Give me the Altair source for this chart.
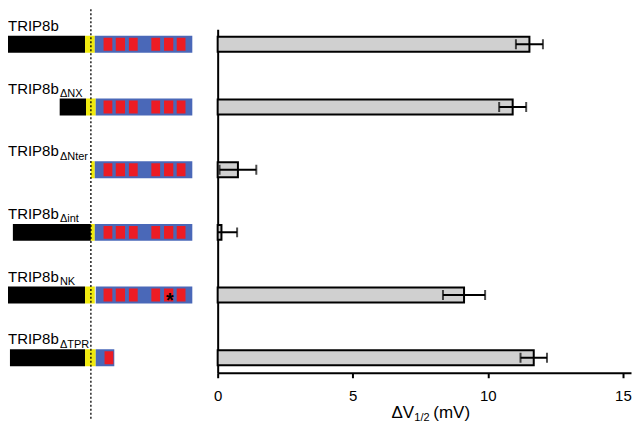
import altair as alt
import pandas as pd

# ---------------- data ----------------
constructs = ["TRIP8b", "TRIP8bΔNX", "TRIP8bΔNter", "TRIP8bΔint", "TRIP8bNK", "TRIP8bΔTPR"]
label_main = ["TRIP8b", "TRIP8b", "TRIP8b", "TRIP8b", "TRIP8b", "TRIP8b"]
label_sub = ["", "ΔNX", "ΔNter", "Δint", "NK", "ΔTPR"]

dv_mean = [11.54, 10.92, 0.75, 0.14, 9.12, 11.70]
dv_err = [0.50, 0.50, 0.68, 0.58, 0.78, 0.49]

# schematic (positions along the schematic axis)
black_start = [0, 56, None, 8, 3, 5]
black_end = [82, 83, None, 88, 82, 82]
yellow_start = [82, 83, 88, 88, 82, 82]
yellow_end = [92, 93, 92, 92, 92, 93]
blue_start = [92, 93, 92, 92, 93, 93]
blue_end = [192, 192, 192, 192, 192, 112]
tpr_start = [101, 113.5, 127, 150, 163, 176]
tpr_end = [110, 123, 136, 159, 172.5, 185]
tpr_short_start = [102]
tpr_short_end = [111]
mutation_construct = ["TRIP8bNK"]
mutation_pos = [169]
junction_pos = [88]
label_pos = [3, 3, 3, 3, 3, 3]

x_ticks = [0, 5, 10, 15]

# ---------------- tables ----------------
seg_rows = []
for i, c in enumerate(constructs):
    if black_start[i] is not None:
        seg_rows.append({"construct": c, "start": black_start[i], "end": black_end[i], "kind": "N"})
    seg_rows.append({"construct": c, "start": yellow_start[i], "end": yellow_end[i], "kind": "link"})
    seg_rows.append({"construct": c, "start": blue_start[i], "end": blue_end[i], "kind": "core"})
segs = pd.DataFrame(seg_rows)

red_rows = []
for i, c in enumerate(constructs):
    if label_sub[i] == "ΔTPR":
        for s, e in zip(tpr_short_start, tpr_short_end):
            red_rows.append({"construct": c, "start": s, "end": e})
    else:
        for s, e in zip(tpr_start, tpr_end):
            red_rows.append({"construct": c, "start": s, "end": e})
reds = pd.DataFrame(red_rows)

labels = pd.DataFrame({"construct": constructs, "main": label_main, "sub": label_sub, "lx": label_pos})
star = pd.DataFrame({"construct": mutation_construct, "x": mutation_pos, "t": ["*"]})
junction = pd.DataFrame({"x": junction_pos})

bars = pd.DataFrame({"construct": constructs, "dv": dv_mean, "err": dv_err})
bars["lo"] = bars["dv"] - bars["err"]
bars["hi"] = bars["dv"] + bars["err"]

# ---------------- shared encodings ----------------
H = 344
yenc = alt.Y("construct:N", sort=constructs,
             scale=alt.Scale(type="point", padding=0.239), axis=None)
xs_left = alt.X("start:Q", scale=alt.Scale(domain=[3, 218], nice=False, zero=False), axis=None)

seg_layer = alt.Chart(segs).mark_bar(size=17, clip=True).encode(
    x=xs_left, x2="end:Q", y=yenc,
    color=alt.Color("kind:N", scale=alt.Scale(domain=["N", "link", "core"],
                                              range=["#000000", "#f0ea10", "#4a68b8"]), legend=None),
)
red_layer = alt.Chart(reds).mark_bar(size=13, color="#ec1c24", clip=True).encode(
    x=xs_left, x2="end:Q", y=yenc
)
star_layer = alt.Chart(star).mark_text(fontSize=20, fontWeight="bold", color="black",
                                       align="center", baseline="middle", dy=6).encode(
    x=alt.X("x:Q"), y=yenc, text="t:N"
)
main_lbl = alt.Chart(labels).mark_text(align="left", baseline="alphabetic", fontSize=15,
                                       dy=-13.5, color="black").encode(
    x=alt.X("lx:Q"), y=yenc, text="main:N"
)
sub_lbl = alt.Chart(labels).mark_text(align="left", baseline="alphabetic", fontSize=11,
                                      dx=52, dy=-10, color="black").encode(
    x=alt.X("lx:Q"), y=yenc, text="sub:N"
)
rule_layer = alt.Chart(junction).mark_rule(color="black", strokeDash=[2, 2], strokeWidth=1.3).encode(
    x=alt.X("x:Q"), y=alt.value(-20), y2=alt.value(390)
)

left = alt.layer(seg_layer, red_layer, star_layer, main_lbl, sub_lbl, rule_layer).properties(
    width=210, height=H, view=alt.ViewBackground(stroke="transparent", strokeWidth=0)
)

xs_right = alt.X("dv:Q", scale=alt.Scale(domain=[0, 15.3], nice=False),
                 axis=alt.Axis(values=x_ticks, title=None, grid=False, labelFontSize=15,
                               labelColor="black", tickColor="black", tickSize=5, tickWidth=2,
                               domainColor="black", domainWidth=2, labelPadding=11,
                               labelFlush=False, labelFont="Liberation Sans"))
yr = alt.Y("construct:N", sort=constructs,
           scale=alt.Scale(type="point", padding=0.239),
           axis=alt.Axis(title=None, labels=False, ticks=False, grid=False,
                         domainColor="black", domainWidth=2, minExtent=0))

bar_layer = alt.Chart(bars).mark_bar(size=15, fill="#d0d0d0", stroke="black", strokeWidth=2).encode(
    x=xs_right, y=yr
)
err_layer = alt.Chart(bars).mark_rule(color="black", strokeWidth=2, clip=True).encode(
    x="lo:Q", x2="hi:Q", y=yr
)
cap_lo = alt.Chart(bars).mark_tick(color="black", thickness=2, size=10, clip=True).encode(
    x="lo:Q", y=yr
)
cap_hi = alt.Chart(bars).mark_tick(color="black", thickness=2, size=10, clip=True).encode(
    x="hi:Q", y=yr
)
t1 = alt.Chart(pd.DataFrame({"t": ["ΔV"]})).mark_text(align="left", baseline="alphabetic",
                                                      fontSize=17, color="black").encode(
    x=alt.value(174), y=alt.value(H + 45), text="t:N")
t2 = alt.Chart(pd.DataFrame({"t": ["1/2"]})).mark_text(align="left", baseline="alphabetic",
                                                       fontSize=11, color="black").encode(
    x=alt.value(197), y=alt.value(H + 48), text="t:N")
t3 = alt.Chart(pd.DataFrame({"t": ["(mV)"]})).mark_text(align="left", baseline="alphabetic",
                                                        fontSize=17, color="black").encode(
    x=alt.value(216), y=alt.value(H + 45), text="t:N")

right = alt.layer(bar_layer, err_layer, cap_lo, cap_hi, t1, t2, t3).properties(
    width=414, height=H, view=alt.ViewBackground(stroke="transparent", strokeWidth=0)
)

chart = alt.hconcat(left, right, spacing=0, bounds="flush").properties(
    padding={"left": 0, "top": 0, "right": 0, "bottom": 0}
).configure_view(stroke="transparent", strokeWidth=0).configure(font="Liberation Sans")

chart.save("out.html", embed_options={"renderer": "svg", "actions": False})
